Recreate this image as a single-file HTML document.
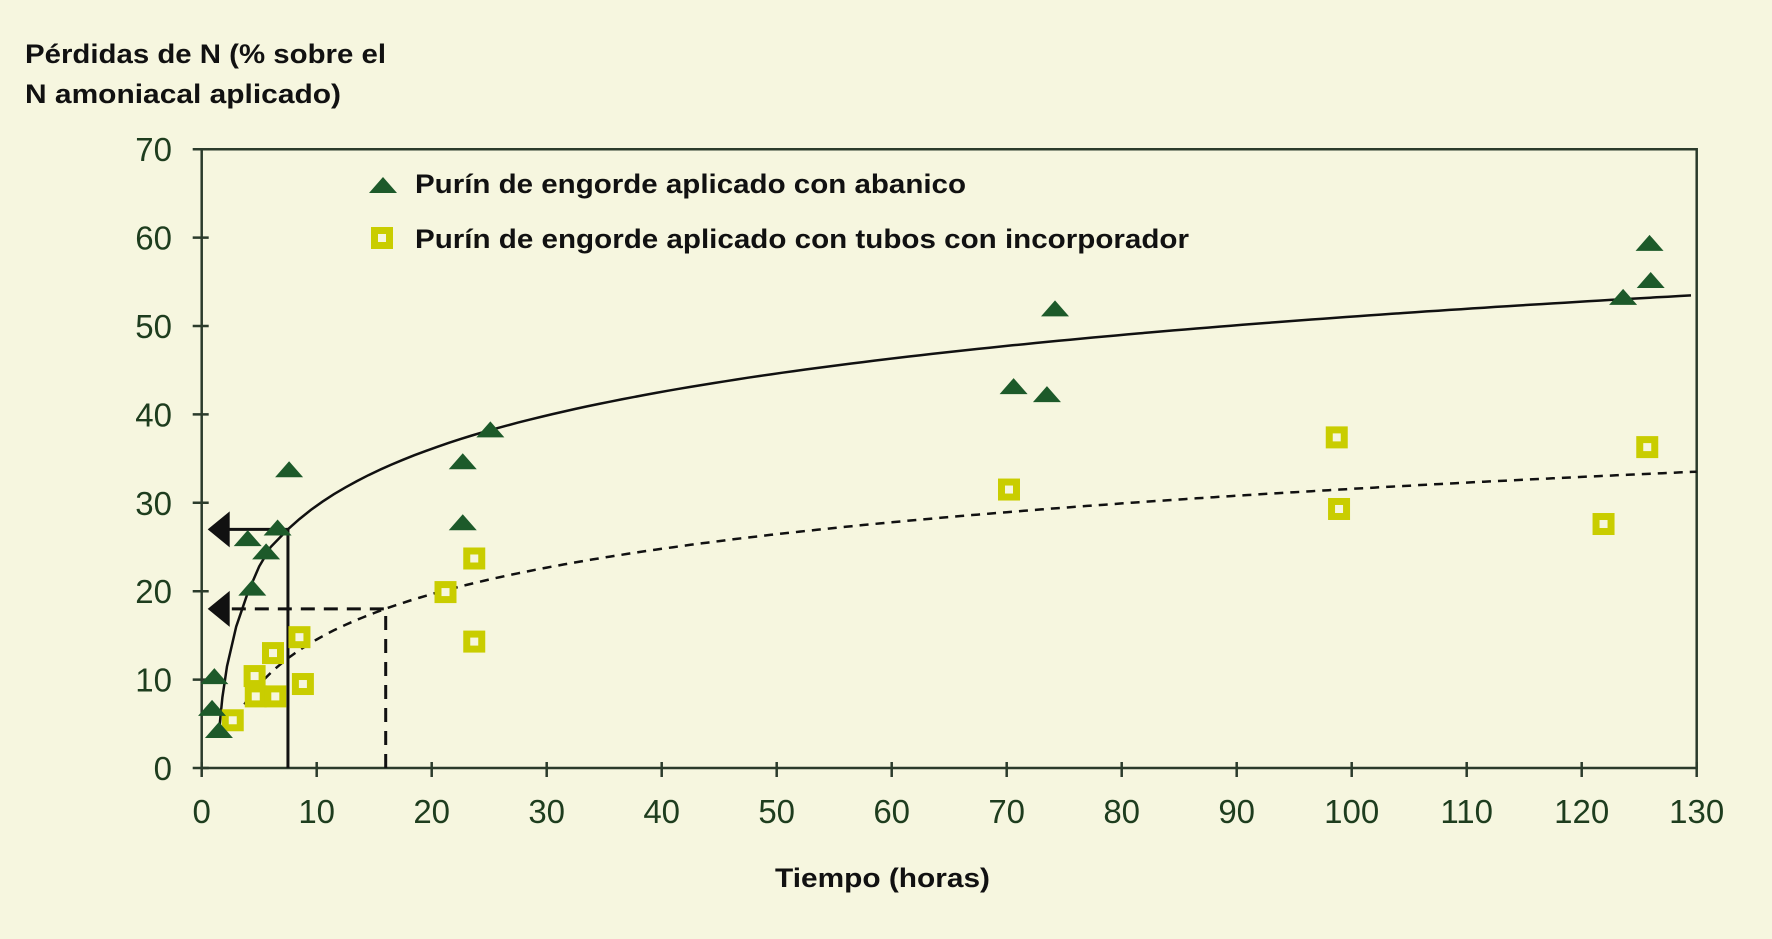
<!DOCTYPE html>
<html><head><meta charset="utf-8"><style>
html,body{margin:0;padding:0;background:#f6f6df;}
svg{display:block}
</style></head><body>
<svg id="s" width="1772" height="939" viewBox="0 0 1772 939" xmlns="http://www.w3.org/2000/svg">
<rect width="1772" height="939" fill="#f6f6df"/>
<g font-family="'Liberation Sans',sans-serif" font-weight="bold" fill="#111">
<text x="25" y="63" font-size="27" textLength="361" lengthAdjust="spacingAndGlyphs">Pérdidas de N (% sobre el</text>
<text x="25" y="103" font-size="27" textLength="316" lengthAdjust="spacingAndGlyphs">N amoniacal aplicado)</text>
<text x="415" y="193" font-size="27" textLength="551" lengthAdjust="spacingAndGlyphs">Purín de engorde aplicado con abanico</text>
<text x="415" y="248" font-size="27" textLength="774" lengthAdjust="spacingAndGlyphs">Purín de engorde aplicado con tubos con incorporador</text>
<text x="775" y="887" font-size="27" textLength="215" lengthAdjust="spacingAndGlyphs">Tiempo (horas)</text>
</g>
<g id="ax" stroke="#2b3b2b" stroke-width="2.5" fill="none"></g>
<g id="lab" font-family="'Liberation Sans',sans-serif" font-size="33" fill="#1e3d1e"></g>
<g id="cur" fill="none" stroke="#111"></g>
<g id="mk"></g>
</svg>
<script>
var NS="http://www.w3.org/2000/svg";
function X(h){return 201.7+11.5*h}
function Y(v){return 768-8.84*v}
function el(p,t,a,txt){var e=document.createElementNS(NS,t);for(var k in a)e.setAttribute(k,a[k]);if(txt!==undefined)e.textContent=txt;document.getElementById(p).appendChild(e);return e}
el('ax','path',{d:'M'+X(0)+' '+Y(70)+'V'+Y(0)+'H'+X(130)+'V'+Y(70)+'Z'});
for(var v=0;v<=70;v+=10){el('ax','line',{x1:X(0)-9,x2:X(0)+7,y1:Y(v),y2:Y(v)});el('lab','text',{x:172,y:Y(v)+12,'text-anchor':'end'},v);}
for(var h=0;h<=130;h+=10){el('ax','line',{x1:X(h),x2:X(h),y1:Y(0)-6,y2:Y(0)+9});el('lab','text',{x:X(h),y:823,'text-anchor':'middle'},h);}
var pts=[[1.5,4],[1.8,8],[2.2,11.5],[3,16],[4,19.8],[5,22.8],[6,25],[7.5,27]];
for(var x=8.5;x<=130;x+=1)pts.push([x,8.28+9.29*Math.log(x)]);
el('cur','path',{d:'M'+pts.map(function(p){return X(p[0]).toFixed(1)+' '+Y(p[1]).toFixed(1)}).join('L'),'stroke-width':2.5});
var dp=[];for(var x=3;x<=130;x+=0.5)dp.push([x,-2.5+7.4*Math.log(x)]);
el('cur','path',{d:'M'+dp.map(function(p){return X(p[0]).toFixed(1)+' '+Y(p[1]).toFixed(1)}).join('L'),'stroke-width':2.5,'stroke-dasharray':'9 7'});
el('cur','path',{d:'M'+X(7.5)+' '+Y(0)+'V'+Y(27)+'H'+(X(0)+22),'stroke-width':3});
el('cur','path',{d:'M'+X(16)+' '+Y(0)+'V'+Y(18)+'H'+(X(0)+22),'stroke-width':3,'stroke-dasharray':'14 9'});
el('cur','path',{d:'M'+(X(0)+6)+' '+Y(27)+'l22 -18v36z',fill:'#111',stroke:'none'});
el('cur','path',{d:'M'+(X(0)+6)+' '+Y(18)+'l22 -18v36z',fill:'#111',stroke:'none'});
var tri=[[1.1,10.4],[0.9,6.8],[1.5,4.3],[4,26],[4.4,20.4],[5.6,24.5],[6.6,27.2],[7.6,33.8],[22.7,34.7],[22.7,27.8],[25.1,38.3],[70.6,43.2],[73.5,42.3],[74.2,52],[123.6,53.3],[126,55.2],[125.9,59.4]];
var sq=[[2.7,5.4],[4.6,10.4],[4.7,8.1],[6.2,13],[6.4,8.1],[8.5,14.8],[8.8,9.5],[21.2,19.9],[23.7,23.7],[23.7,14.3],[70.2,31.5],[98.7,37.4],[98.9,29.3],[121.9,27.6],[125.7,36.3]];
function T(x,y){el('mk','path',{d:'M'+(x-14)+' '+(y+8)+'L'+x+' '+(y-8)+'L'+(x+14)+' '+(y+8)+'Z',fill:'#1d5a2a'})}
function S(x,y){el('mk','rect',{x:x-11,y:y-11,width:22,height:22,fill:'#c9cd00'});el('mk','rect',{x:x-4,y:y-4,width:8,height:8,fill:'#f6f6df'})}
sq.forEach(function(p){S(X(p[0]),Y(p[1]))});
tri.forEach(function(p){T(X(p[0]),Y(p[1]))});
T(383,185);S(382,238);
</script>
</body></html>
